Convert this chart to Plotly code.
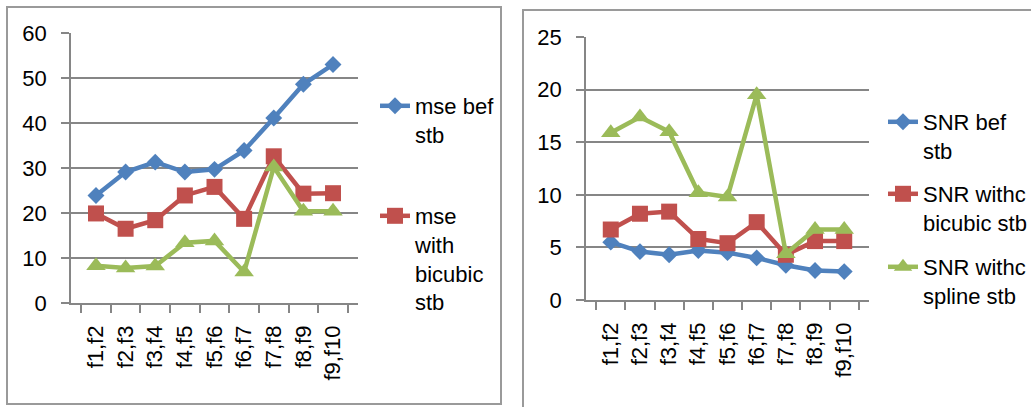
import plotly.graph_objects as go

W, H = 1031, 407

categories = ["f1,f2", "f2,f3", "f3,f4", "f4,f5", "f5,f6", "f6,f7", "f7,f8", "f8,f9", "f9,f10"]

mse_bef_stb = [23.9, 29.1, 31.3, 29.1, 29.7, 33.9, 41.1, 48.6, 53.0]
mse_bicubic_stb = [19.9, 16.5, 18.4, 23.9, 25.8, 18.7, 32.6, 24.3, 24.4]
mse_spline_stb = [8.3, 7.8, 8.2, 13.4, 13.8, 6.9, 30.2, 20.4, 20.4]

snr_bef_stb = [5.5, 4.6, 4.3, 4.7, 4.5, 4.0, 3.3, 2.8, 2.7]
snr_bicubic_stb = [6.7, 8.2, 8.4, 5.8, 5.4, 7.4, 4.3, 5.6, 5.6]
snr_spline_stb = [15.9, 17.4, 16.0, 10.2, 9.8, 19.5, 4.4, 6.7, 6.7]

left_names = ["mse bef<br>stb", "mse<br>with<br>bicubic<br>stb", "mse with spline stb"]
right_names = ["SNR bef<br>stb", "SNR withc<br>bicubic stb", "SNR withc<br>spline stb"]

BLUE, RED, GREEN = "#4F81BD", "#C0504D", "#9BBB59"
GRID = "#868686"
FONT = "Liberation Sans"

def px_x(p):
    return p / W

def px_y(p):
    return (H - p) / H

fig = go.Figure()

styles = [
    (BLUE, "diamond", 13),
    (RED, "square", 16),
    (GREEN, "triangle-up", 17),
]

left_series = [mse_bef_stb, mse_bicubic_stb, mse_spline_stb]
right_series = [snr_bef_stb, snr_bicubic_stb, snr_spline_stb]

left_legends = ["legend", "legend2", None]
right_legends = ["legend3", "legend4", "legend5"]

for i, (vals, name) in enumerate(zip(left_series, left_names)):
    c, sym, sz = styles[i]
    fig.add_trace(go.Scatter(
        x=categories, y=vals, name=name, mode="lines+markers",
        line=dict(color=c, width=4.5),
        marker=dict(color=c, symbol=sym, size=sz),
        xaxis="x", yaxis="y",
        showlegend=left_legends[i] is not None,
        legend=left_legends[i] if left_legends[i] else "legend",
    ))

for i, (vals, name) in enumerate(zip(right_series, right_names)):
    c, sym, sz = styles[i]
    fig.add_trace(go.Scatter(
        x=categories, y=vals, name=name, mode="lines+markers",
        line=dict(color=c, width=4.5),
        marker=dict(color=c, symbol=sym, size=sz),
        xaxis="x2", yaxis="y2",
        legend=right_legends[i],
    ))

axis_common = dict(
    showline=True, linecolor=GRID, linewidth=1.5,
    ticks="outside", ticklen=8, tickcolor=GRID, tickwidth=1.5,
    tickfont=dict(family=FONT, size=22, color="black"),
    zeroline=False, automargin=False,
)

fig.update_layout(
    width=W, height=H,
    margin=dict(l=0, r=0, t=0, b=0, autoexpand=False),
    paper_bgcolor="white", plot_bgcolor="white",
    font=dict(family=FONT, size=22, color="black"),
    xaxis=dict(domain=[px_x(71), px_x(358)], anchor="y", type="category",
               tickson="boundaries", tickangle=-90, showgrid=False,
               ticklabelstandoff=12, **axis_common),
    yaxis=dict(domain=[px_y(303), px_y(33)], anchor="x", range=[0, 60],
               dtick=10, showgrid=True, gridcolor=GRID, gridwidth=1.5,
               ticklabelstandoff=10, **axis_common),
    xaxis2=dict(domain=[px_x(586), px_x(869)], anchor="y2", type="category",
                tickson="boundaries", tickangle=-90, showgrid=False,
                ticklabelstandoff=12, **axis_common),
    yaxis2=dict(domain=[px_y(300), px_y(37)], anchor="x2", range=[0, 25],
                dtick=5, showgrid=True, gridcolor=GRID, gridwidth=1.5,
                ticklabelstandoff=10, **axis_common),
    shapes=[
        dict(type="rect", xref="paper", yref="paper",
             x0=px_x(7), x1=px_x(501), y0=px_y(404), y1=px_y(7),
             line=dict(color="#9A9A9A", width=2), fillcolor="rgba(0,0,0,0)", layer="below"),
        dict(type="rect", xref="paper", yref="paper",
             x0=px_x(523), x1=px_x(1040), y0=px_y(420), y1=px_y(10),
             line=dict(color="#9A9A9A", width=2), fillcolor="rgba(0,0,0,0)", layer="below"),
    ],
)

leg_common = dict(font=dict(family=FONT, size=22, color="black"),
                  bgcolor="rgba(0,0,0,0)", xanchor="left", yanchor="top",
                  valign="top", itemwidth=30, borderwidth=0)

def leg(xp, yp):
    d = dict(leg_common)
    d.update(x=px_x(xp), y=px_y(yp))
    return d

fig.update_layout(
    legend=leg(375, 85),
    legend2=leg(375, 195),
    legend3=leg(883, 101),
    legend4=leg(883, 173),
    legend5=leg(883, 246),
)

fig.write_html(
    "out.html",
    config={"displayModeBar": False},
    post_script="document.body.style.margin='0';document.body.style.overflow='hidden';",
)
